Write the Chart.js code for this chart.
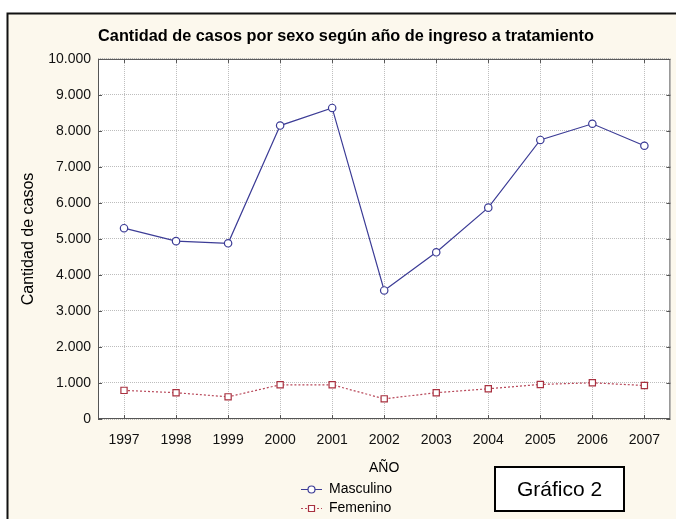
<!DOCTYPE html>
<html lang="es">
<head>
<meta charset="utf-8">
<title>Gráfico 2</title>
<script src="https://cdn.jsdelivr.net/npm/chart.js@4.4.1/dist/chart.umd.min.js"></script>
<style>
  html, body { margin: 0; padding: 0; background: #fff; }
  #chart-casos { display: block; }
</style>
</head>
<body>
<canvas id="chart-casos" width="676" height="519"></canvas>
<script>
'use strict';

/* ─── Datos ───────────────────────────────────────────────── */
var anios     = ['1997', '1998', '1999', '2000', '2001', '2002', '2003', '2004', '2005', '2006', '2007'];
var masculino = [5300, 4940, 4880, 8150, 8640, 3570, 4630, 5870, 7750, 8200, 7590];
var femenino  = [795, 730, 615, 950, 950, 560, 730, 840, 960, 1005, 930];
var yMin  = 0;
var yMax  = 10000;
var yPaso = 1000;

var FUENTE = 'Arial, "Liberation Sans", sans-serif';

function formatMiles(v) {
  return String(v).replace(/\B(?=(\d{3})+(?!\d))/g, '.');
}

/* ─── Fondo crema + marco exterior ────────────────────────── */
var fondoPlugin = {
  id: 'fondo',
  beforeDraw: function(chart) {
    var ctx = chart.ctx, a = chart.chartArea;
    ctx.save();
    ctx.fillStyle = '#ffffff';
    ctx.fillRect(0, 0, chart.width, chart.height);
    ctx.fillStyle = '#fcf8ed';
    ctx.fillRect(7, 13, chart.width - 7, chart.height - 13);
    ctx.strokeStyle = '#111';
    ctx.lineWidth = 2;
    ctx.beginPath();
    ctx.moveTo(7.5, chart.height);
    ctx.lineTo(7.5, 13.5);
    ctx.lineTo(chart.width, 13.5);
    ctx.stroke();
    ctx.fillStyle = '#ffffff';
    ctx.fillRect(a.left, a.top, a.right - a.left, a.bottom - a.top);
    ctx.restore();
  }
};

/* ─── Caja del gráfico con marcas hacia dentro ────────────── */
var marcoPlugin = {
  id: 'marco',
  afterDatasetsDraw: function(chart) {
    var ctx = chart.ctx, a = chart.chartArea;
    var sx = chart.scales.x, sy = chart.scales.y;
    var L = 4;
    ctx.save();
    ctx.strokeStyle = '#555';
    ctx.lineWidth = 1;
    ctx.strokeRect(a.left + 0.5, a.top + 0.5, a.right - a.left - 1, a.bottom - a.top - 1);
    ctx.beginPath();
    for (var i = 0; i < sx.ticks.length; i++) {
      var px = Math.round(sx.getPixelForTick(i)) + 0.5;
      ctx.moveTo(px, a.bottom); ctx.lineTo(px, a.bottom - L);
      ctx.moveTo(px, a.top);    ctx.lineTo(px, a.top + L);
    }
    for (var j = 0; j < sy.ticks.length; j++) {
      var py = Math.round(sy.getPixelForTick(j)) + 0.5;
      ctx.moveTo(a.left, py);  ctx.lineTo(a.left + L, py);
      ctx.moveTo(a.right, py); ctx.lineTo(a.right - L, py);
    }
    ctx.stroke();
    ctx.restore();
  }
};

/* ─── Leyenda (línea + marcador) y recuadro "Gráfico 2" ───── */
var leyendaPlugin = {
  id: 'leyendaPropia',
  afterDraw: function(chart) {
    var ctx = chart.ctx;
    var ds = chart.data.datasets;
    var x0 = 301, x1 = 322, xt = 329;
    var ys = [489, 508];
    ctx.save();
    for (var i = 0; i < ds.length; i++) {
      var d = ds[i], y = ys[i] + 0.5, cx = (x0 + x1) / 2;
      ctx.strokeStyle = d.borderColor;
      ctx.lineWidth = 1;
      ctx.setLineDash(d.borderDash || []);
      ctx.beginPath();
      ctx.moveTo(x0, y); ctx.lineTo(x1, y);
      ctx.stroke();
      ctx.setLineDash([]);
      ctx.fillStyle = '#fff';
      ctx.strokeStyle = d.pointBorderColor;
      ctx.lineWidth = d.pointBorderWidth;
      ctx.beginPath();
      if (d.pointStyle === 'rect') {
        ctx.rect(cx - 3, y - 3, 6, 6);
      } else {
        ctx.arc(cx, y, 3.5, 0, Math.PI * 2);
      }
      ctx.fill();
      ctx.stroke();
      ctx.fillStyle = '#000';
      ctx.font = '14px ' + FUENTE;
      ctx.textAlign = 'left';
      ctx.textBaseline = 'middle';
      ctx.fillText(d.label, xt, ys[i]);
    }

    /* recuadro */
    ctx.fillStyle = '#fff';
    ctx.fillRect(494, 466, 131, 46);
    ctx.strokeStyle = '#000';
    ctx.lineWidth = 2;
    ctx.strokeRect(495, 467, 129, 44);
    ctx.fillStyle = '#000';
    ctx.font = '21px ' + FUENTE;
    ctx.textAlign = 'center';
    ctx.textBaseline = 'middle';
    ctx.fillText('Gráfico 2', 559.5, 490);
    ctx.restore();
  }
};

/* ─── Gráfico ─────────────────────────────────────────────── */
var ctxCasos = document.getElementById('chart-casos');
var chartCasos = new Chart(ctxCasos, {
  type: 'line',
  data: {
    labels: anios,
    datasets: [{
      label: 'Masculino',
      data: masculino,
      borderColor: '#3c3c96',
      borderWidth: 1.2,
      tension: 0,
      pointStyle: 'circle',
      pointRadius: 3.7,
      pointBackgroundColor: '#ffffff',
      pointBorderColor: '#3c3c96',
      pointBorderWidth: 1.2
    }, {
      label: 'Femenino',
      data: femenino,
      borderColor: '#b8485a',
      borderWidth: 1.2,
      borderDash: [2, 2],
      tension: 0,
      pointStyle: 'rect',
      pointRadius: 4.4,
      pointBackgroundColor: '#ffffff',
      pointBorderColor: '#a8303f',
      pointBorderWidth: 1.2
    }]
  },
  options: {
    responsive: false,
    animation: false,
    layout: { padding: { left: 19, right: 3, top: 0, bottom: 40 } },
    plugins: {
      legend:  { display: false },
      tooltip: { enabled: false },
      title: {
        display: true,
        text: 'Cantidad de casos por sexo según año de ingreso a tratamiento',
        color: '#000',
        font: { family: FUENTE, size: 16.3, weight: 'bold' },
        padding: { top: 26.5, bottom: 12.9 }
      }
    },
    scales: {
      x: {
        offset: true,
        grid:   { color: '#bdbdbd', lineWidth: 1, drawTicks: false },
        border: { display: false, dash: [1, 1] },
        ticks:  { color: '#111', font: { family: FUENTE, size: 14 }, padding: 12.3, maxRotation: 0, autoSkip: false },
        title:  { display: true, text: 'AÑO', color: '#000', font: { family: FUENTE, size: 14 }, padding: { top: 0, bottom: 2 } },
        afterFit: function(scale) { scale.height = 60; }
      },
      y: {
        min: yMin,
        max: yMax,
        grid:   { color: '#bdbdbd', lineWidth: 1, drawTicks: false },
        border: { display: false, dash: [1, 1] },
        ticks:  {
          stepSize: yPaso,
          color: '#111',
          font: { family: FUENTE, size: 14 },
          padding: 7,
          callback: function(v) { return formatMiles(v); }
        },
        title:  { display: true, text: 'Cantidad de casos', color: '#000', font: { family: FUENTE, size: 16 }, padding: { top: 0, bottom: 0 } },
        afterFit: function(scale) { scale.width = 79; }
      }
    }
  },
  plugins: [fondoPlugin, marcoPlugin, leyendaPlugin]
});
</script>
</body>
</html>
